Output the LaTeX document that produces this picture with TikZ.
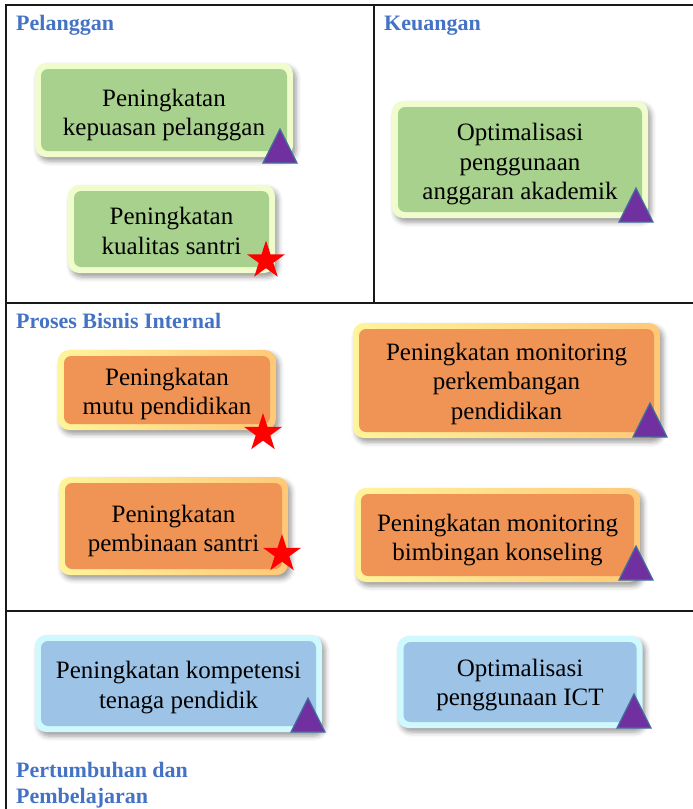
\documentclass[tikz,border=0pt]{standalone}
\usepackage{fontspec}
\setmainfont{Liberation Serif}
\usetikzlibrary{shapes.geometric,shadows.blur}

\definecolor{headblue}{HTML}{4472C4}
\definecolor{greenfill}{HTML}{A9D18E}
\definecolor{greenglow}{HTML}{F0FCCC}
\definecolor{orangefill}{HTML}{F09456}
\definecolor{orangeglowA}{HTML}{FFF49A}
\definecolor{orangeglowB}{HTML}{FFC878}
\definecolor{bluefill}{HTML}{9DC3E6}
\definecolor{blueglow}{HTML}{CFF8FF}
\definecolor{tripurple}{HTML}{7030A0}
\definecolor{triedge}{HTML}{41719C}

\begin{document}
\begin{tikzpicture}[x=1pt,y=-1pt,
  frame/.style={line width=2pt, draw=black!90},
  heading/.style={anchor=base west, inner sep=0pt, text=headblue,
    font=\fontsize{22}{26}\selectfont\bfseries},
  card/.style={rounded corners=11pt, inner sep=0pt,
    blur shadow={shadow xshift=3pt, shadow yshift=-4pt,
      shadow blur radius=5pt, shadow opacity=40}},
  card inner/.style={path picture={
    \fill[#1, rounded corners=7pt]
      ([shift={(6pt,-6pt)}]path picture bounding box.north west) rectangle
      ([shift={(-6pt,6pt)}]path picture bounding box.south east);}},
  green card/.style={card, fill=greenglow, card inner=greenfill},
  orange card/.style={card, left color=orangeglowA, right color=orangeglowB,
    card inner=orangefill},
  blue card/.style={card, fill=blueglow, card inner=bluefill},
  cardtext/.style={inner sep=0pt, align=center,
    font=\fontsize{25}{29.5}\selectfont},
  starmark/.style={star, star points=5, star point ratio=2.618, fill=red,
    draw=none, inner sep=0pt, minimum size=40pt},
  tri/.pic={\filldraw[fill=tripurple, draw=triedge, line width=1.2pt,
    line join=miter] (-17,0) -- (0,-34) -- (17,0) -- cycle;}
]
\useasboundingbox (0,0) rectangle (693,809);

% grid of the four perspectives
\coordinate (tl) at (6,5);
\coordinate (tr) at (693,5);
\coordinate (bl) at (6,809);
\coordinate (m1l) at (6,303);
\coordinate (m1r) at (693,303);
\coordinate (m2l) at (6,611);
\coordinate (m2r) at (693,611);
\coordinate (vt) at (374,5);
\coordinate (vb) at (374,303);
\draw[frame] (tr) -- (tl) -- (bl);
\draw[frame] (m1l) -- (m1r);
\draw[frame] (m2l) -- (m2r);
\draw[frame] (vt) -- (vb);

% headings
\node[heading] (hPel) at (16,30) {Pelanggan};
\node[heading] (hKeu) at (384,30) {Keuangan};
\node[heading] (hPro) at (16,328) {Proses Bisnis Internal};
\node[heading] (hPerA) at (16,777) {Pertumbuhan dan};
\node[heading] (hPerB) at (16,803) {Pembelajaran};

% cards
\node[green card, minimum width=258, minimum height=94] (c1) at (164,110) {};
\node[green card, minimum width=207, minimum height=88] (c2) at (171.5,229) {};
\node[green card, minimum width=256, minimum height=117] (c3) at (520,159.5) {};
\node[orange card, minimum width=218, minimum height=80] (c4) at (167,390) {};
\node[orange card, minimum width=307, minimum height=115] (c5) at (506.5,380.5) {};
\node[orange card, minimum width=229, minimum height=98] (c6) at (173.5,526) {};
\node[orange card, minimum width=285, minimum height=94] (c7) at (497.5,535) {};
\node[blue card, minimum width=287, minimum height=97] (c8) at (178.5,683.5) {};
\node[blue card, minimum width=245, minimum height=92] (c9) at (520,682) {};

% card texts
\node[cardtext] (t1) at ([yshift=-5pt]c1.center) {Peningkatan\\kepuasan pelanggan};
\node[cardtext] (t2) at ([yshift=-2pt]c2.center) {Peningkatan\\kualitas santri};
\node[cardtext] (t3) at ([yshift=-5pt]c3.center) {Optimalisasi\\penggunaan\\anggaran akademik};
\node[cardtext] (t4) at ([yshift=-4pt]c4.center) {Peningkatan\\mutu pendidikan};
\node[cardtext] (t5) at ([yshift=-3pt]c5.center) {Peningkatan monitoring\\perkembangan\\pendidikan};
\node[cardtext] (t6) at ([yshift=-5pt]c6.center) {Peningkatan\\pembinaan santri};
\node[cardtext] (t7) at ([yshift=-5pt]c7.center) {Peningkatan monitoring\\bimbingan konseling};
\node[cardtext] (t8) at ([yshift=-4pt]c8.center) {Peningkatan kompetensi\\tenaga pendidik};
\node[cardtext] (t9) at ([yshift=-3pt]c9.center) {Optimalisasi\\penggunaan ICT};

% markers
\pic at (280,163) {tri};
\pic at (636,222) {tri};
\pic at (650,437) {tri};
\pic at (636,580) {tri};
\pic at (308,732) {tri};
\pic at (634,728) {tri};
\node[starmark] (s2) at (266,260.5) {};
\node[starmark] (s4) at (263,433) {};
\node[starmark] (s6) at (282,554) {};
\end{tikzpicture}
\end{document}
